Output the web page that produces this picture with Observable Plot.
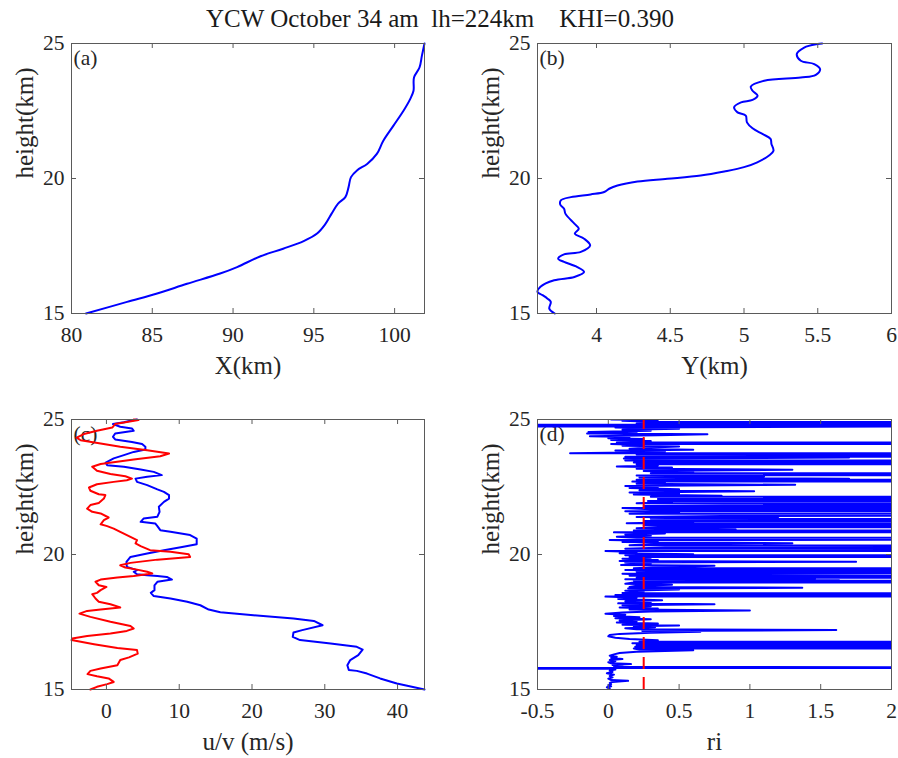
<!DOCTYPE html>
<html>
<head>
<meta charset="utf-8">
<script src="https://cdn.jsdelivr.net/npm/d3@7"></script>
<script src="https://cdn.jsdelivr.net/npm/@observablehq/plot@0.6"></script>
<style>
  body { margin: 0; background: #fff; }
  #fig { position: relative; width: 898px; height: 758px; overflow: hidden;
         font-family: "Liberation Serif", "Times New Roman", serif; color: #1a1a1a; }
  #title { position: absolute; left: 0; top: 6px; width: 880px; text-align: center;
           font-size: 25px; line-height: 1; white-space: pre; }
</style>
</head>
<body>
<div id="fig">
  <div id="title">YCW October 34 am  lh=224km    KHI=0.390</div>
</div>
<script>
// Shared height axis (km)
const heightDomain = [15, 25];
const heightTicks = [15, 20, 25];

// (a) horizontal position X (km) against height
const heightA = [15, 15.43, 15.74, 16.1, 16.48, 16.72, 17.12, 17.4, 17.68, 17.96,
                 18.3, 18.7, 19.07, 19.31, 19.68, 20.05, 20.3, 20.54, 20.91, 21.4,
                 21.96, 22.51, 22.95, 23.25, 23.74, 24.11, 24.55, 25];
const xPos    = [80.9, 83.44, 85.3, 87.15, 89.2, 90.25, 91.7, 93.1, 94.37, 95.2,
                 95.7, 96.1, 96.5, 96.95, 97.15, 97.3, 97.67, 98.3, 98.9, 99.3,
                 99.93, 100.55, 100.97, 101.17, 101.2, 101.54, 101.69, 101.85];
const xTicksA = [80, 85, 90, 95, 100];

// (b) horizontal position Y (km) against height
const heightB = [15, 15.18, 15.43, 15.55, 15.68, 15.8, 15.99, 16.23, 16.35, 16.54,
                 16.72, 16.91, 17.03, 17.19, 17.28, 17.52, 17.77, 17.96, 18.14, 18.33,
                 18.69, 18.88, 19.04, 19.19, 19.31, 19.41, 19.5, 19.62, 19.74, 19.89,
                 19.99, 20.11, 20.26, 20.42, 20.6, 20.85, 21.03, 21.28, 21.47, 21.65,
                 21.86, 22.08, 22.33, 22.45, 22.64, 22.82, 22.91, 23.07, 23.25, 23.4,
                 23.62, 23.74, 23.84, 24.05, 24.24, 24.36, 24.61, 24.85, 24.98, 25];
const yPos    = [3.717, 3.68, 3.69, 3.668, 3.634, 3.6, 3.62, 3.713, 3.85, 3.916,
                 3.87, 3.78, 3.74, 3.78, 3.894, 3.957, 3.916, 3.853, 3.88, 3.85,
                 3.79, 3.78, 3.754, 3.758, 3.826, 3.96, 4.052, 4.086, 4.142, 4.278,
                 4.48, 4.707, 4.866, 5.0, 5.09, 5.17, 5.2, 5.186, 5.18, 5.125,
                 5.058, 5.02, 5.012, 4.956, 4.933, 4.98, 5.058, 5.092, 5.058, 5.046,
                 5.137, 5.385, 5.487, 5.516, 5.476, 5.385, 5.358, 5.408, 5.498, 5.53];
const xTicksB = [4, 4.5, 5, 5.5, 6];
const yPosMax = 6;

// (c) wind components u (blue) and v (red), m/s
const heightU = [15, 15.22, 15.41, 15.59, 15.69, 15.72, 15.9, 16.09, 16.27, 16.48,
                 16.58, 16.7, 16.83, 16.95, 17.11, 17.2, 17.38, 17.54, 17.63, 17.75,
                 17.86, 17.96, 18.12, 18.25, 18.37, 18.46, 18.58, 18.68, 18.86, 18.99,
                 19.07, 19.17, 19.2, 19.23, 19.27, 19.36, 19.42, 19.54, 19.73, 19.91,
                 20.04, 20.16, 20.28, 20.38, 20.59, 20.72, 20.84, 20.9, 21.05, 21.15,
                 21.21, 21.33, 21.4, 21.58, 21.77, 21.95, 22.07, 22.2, 22.32, 22.41,
                 22.57, 22.69, 22.81, 22.88, 22.94, 23.06, 23.15, 23.25, 23.31, 23.4,
                 23.56, 23.68, 23.8, 23.89, 23.99, 24.09, 24.17, 24.26, 24.36, 24.48,
                 24.58, 24.67, 24.73, 24.83, 24.9, 24.95, 25];
const uWind   = [43.7, 39.9, 37.6, 35.8, 34.4, 33.3, 33.1, 33.5, 34.6, 35.2,
                 34.4, 30.8, 26.6, 25.6, 25.7, 26.9, 29.7, 28.5, 25.7, 20.2,
                 15.65, 14.05, 12.9, 11.1, 8.8, 6.5, 6.1, 6.6, 6.6, 7.0,
                 9.0, 8.3, 7.0, 5.6, 4.2, 3.75, 4.2, 2.8, 2.75, 3.3,
                 5.6, 7.9, 10.4, 12.4, 12.4, 11.5, 8.8, 7.4, 7.0, 6.7,
                 4.7, 5.1, 7.0, 7.3, 7.2, 7.9, 8.6, 8.6, 7.9, 7.0,
                 5.6, 4.2, 4.0, 5.6, 7.6, 6.5, 4.7, 2.4, 0.1, -0.1,
                 1.0, 2.4, 3.75, 5.35, 5.35, 4.9, 3.5, 1.2, 0.9, 1.2,
                 3.75, 3.5, 1.9, 0.9, 2.4, 3.3, 4.2];
const heightV = [15, 15.1, 15.2, 15.28, 15.41, 15.49, 15.57, 15.69, 15.78, 15.9,
                 16.09, 16.19, 16.33, 16.46, 16.54, 16.68, 16.83, 16.89, 16.98, 17.07,
                 17.17, 17.26, 17.35, 17.51, 17.69, 17.81, 17.91, 17.96, 18.04, 18.16,
                 18.25, 18.37, 18.53, 18.58, 18.68, 18.8, 18.86, 18.99, 19.07, 19.15,
                 19.2, 19.3, 19.36, 19.44, 19.52, 19.6, 19.69, 19.81, 19.91, 20.01,
                 20.1, 20.16, 20.31, 20.41, 20.53, 20.65, 20.84, 20.96, 21.05, 21.12,
                 21.27, 21.37, 21.52, 21.58, 21.7, 21.83, 21.91, 22.07, 22.2, 22.23,
                 22.36, 22.48, 22.6, 22.69, 22.75, 22.81, 22.9, 22.98, 23.1, 23.25,
                 23.35, 23.52, 23.64, 23.74, 23.86, 23.99, 24.11, 24.23, 24.33, 24.46,
                 24.58, 24.7, 24.83, 24.9, 24.98, 25];
const vWind   = [-2.2, -1.3, 0.1, 1.0, 0.3, -1.3, -2.6, -2.2, -0.8, 1.5,
                 1.9, 3.1, 4.3, 4.2, 1.5, -1.7, -4.8, -4.7, -2.65, 0.55,
                 2.8, 3.75, 3.3, 0.55, -2.2, -3.7, -2.65, -0.8, 1.9, 0.55,
                 -1.05, -1.5, -1.95, -1.3, -0.8, 0, -1.05, -1.5, -0.8, 1.5,
                 3.75, 6.3, 5.6, 4.2, 2.6, 1.9, 3.3, 7.0, 11.5, 11.3,
                 8.8, 6.0, 4.7, 4.0, 4.2, 3.3, 1.9, 1.0, 0.1, -0.8,
                 -0.35, 0.3, -0.8, -1.95, -2.65, -2.2, -1.05, -0.35, -0.15, -1.05,
                 -2.2, -2.4, -1.3, 1.0, 2.8, 3.5, 2.6, 0.55, -1.3, -1.95,
                 -0.8, 3.75, 7.4, 8.6, 5.6, 1.9, -0.8, -3.55, -4.1, -3.1,
                 -1.3, 0.8, 1.2, 2.6, 4.4, 3.75];
const xTicksC = [0, 10, 20, 30, 40];

// (d) Richardson number profile: [height km, ri]
const riProfile = [
  [15.00, 0.00], [15.04, 0.01], [15.08, -0.01], [15.12, 0.02], [15.16, 0.00],
  [15.20, 0.02], [15.24, 0.01], [15.28, 0.03], [15.32, 0.14], [15.35, 0.02],
  [15.40, 0.00], [15.45, 0.03], [15.50, 0.01], [15.55, 0.04], [15.60, -0.01],
  [15.65, 0.03], [15.70, 0.01], [15.74, 0.05], [15.77, 0.02], [15.79, -30],
  [15.80, 30], [15.83, 0.04], [15.87, 0.10], [15.91, 0.03], [15.94, 0.16],
  [15.97, 0.02], [16.01, 0.00], [16.05, 0.05], [16.09, 0.01], [16.13, 0.10],
  [16.17, 0.02], [16.21, 0.06], [16.25, 0.01], [16.30, 0.04], [16.35, 0.08],
  [16.40, 0.20], [16.45, 0.60], [16.48, 0.22], [16.52, 0.18], [16.55, 30],
  [16.58, 0.19], [16.62, 30], [16.65, 0.20], [16.68, 30], [16.71, 0.17],
  [16.74, 30], [16.77, 0.22], [16.82, 0.35], [16.87, 0.15], [16.92, 0.05],
  [16.97, 0.00], [17.02, 0.01], [17.06, 0.08], [17.10, 0.30], [17.14, 0.65],
  [17.17, 0.24], [17.20, 1.61], [17.23, 0.20], [17.27, 0.12], [17.31, 0.33],
  [17.34, 0.18], [17.37, 0.50], [17.40, 0.10], [17.44, 0.35], [17.48, 0.06],
  [17.52, 0.20], [17.56, 0.08], [17.60, 0.30], [17.64, 0.05], [17.68, 0.22],
  [17.72, 0.04], [17.77, 0.12], [17.81, -0.02], [17.85, 0.10], [17.89, 0.30],
  [17.93, 1.00], [17.96, 0.15], [18.00, 0.35], [18.04, 0.08], [18.08, 0.30],
  [18.12, 0.10], [18.16, 0.75], [18.19, 0.07], [18.23, 0.30], [18.27, 0.12],
  [18.31, 0.38], [18.35, 0.07], [18.40, 0.20], [18.44, -0.02], [18.47, 30],
  [18.50, 0.05], [18.54, 30], [18.57, 0.10], [18.62, 0.25], [18.66, 0.12],
  [18.70, 0.50], [18.74, 0.14], [18.77, 1.37], [18.80, 0.15], [18.84, 0.20],
  [18.88, 0.45], [18.92, 0.12], [18.96, 0.18], [19.00, 30], [19.03, 0.18],
  [19.05, 1.63], [19.08, 0.12], [19.11, 1.46], [19.14, 0.20], [19.18, 30],
  [19.21, 0.15], [19.25, 0.30], [19.29, 0.10], [19.33, 30], [19.36, 0.20],
  [19.40, 0.60], [19.43, 0.12], [19.46, 30], [19.49, 0.18], [19.54, 0.40],
  [19.58, 0.75], [19.61, 0.09], [19.66, 0.30], [19.70, 0.12], [19.73, 1.75],
  [19.76, 0.08], [19.80, 0.35], [19.84, 0.10], [19.88, 0.30], [19.91, 0.15],
  [19.94, 30], [19.97, 0.12], [20.01, 0.60], [20.05, 0.08], [20.09, 0.20],
  [20.13, -0.02], [20.17, 30], [20.21, 0.12], [20.26, 0.40], [20.30, 30],
  [20.34, 0.15], [20.38, 0.30], [20.42, 1.30], [20.46, 0.10], [20.50, 0.35],
  [20.54, 0.01], [20.58, 30], [20.62, 0.20], [20.66, 0.06], [20.70, 0.30],
  [20.74, 0.12], [20.78, 0.40], [20.82, 0.04], [20.85, 30], [20.89, 0.18],
  [20.93, 0.90], [20.97, 0.20], [21.01, 0.35], [21.04, 30], [21.08, 0.25],
  [21.12, 30], [21.16, 0.13], [21.20, 0.60], [21.24, 0.25], [21.28, 30],
  [21.32, 0.30], [21.35, 1.20], [21.39, 0.20], [21.43, 0.80], [21.47, 30],
  [21.51, 0.15], [21.56, 0.50], [21.60, 0.12], [21.64, 30], [21.68, 0.30],
  [21.72, 0.10], [21.76, 30], [21.80, 0.25], [21.83, 1.30], [21.86, 30],
  [21.90, 0.20], [21.94, 0.45], [21.98, 0.28], [22.02, 30], [22.06, 0.35],
  [22.10, 30], [22.14, 0.30], [22.18, 0.80], [22.22, 0.18], [22.26, 0.50],
  [22.30, 0.15], [22.34, 1.03], [22.38, 0.22], [22.42, 0.50], [22.46, 0.15],
  [22.50, 0.35], [22.54, 0.12], [22.58, 1.32], [22.62, 0.20], [22.66, 0.40],
  [22.70, 0.17], [22.73, 30], [22.77, 0.20], [22.81, 1.70], [22.85, 0.22],
  [22.89, 1.10], [22.93, 0.20], [22.97, 30], [23.01, 0.30], [23.05, 0.60],
  [23.09, 0.25], [23.14, 1.30], [23.18, 0.20], [23.22, 0.45], [23.26, 0.06],
  [23.30, 0.35], [23.34, 0.20], [23.38, 30], [23.41, 0.18], [23.44, 30],
  [23.48, 0.12], [23.52, 0.40], [23.56, 0.11], [23.59, 1.70], [23.62, 0.12],
  [23.66, 30], [23.70, 0.20], [23.73, 30], [23.75, -0.27], [23.78, 0.15],
  [23.82, 0.40], [23.85, 0.05], [23.88, 0.60], [23.92, 0.15], [23.96, 0.30],
  [24.00, 0.50], [24.03, 0.10], [24.06, 0.25], [24.09, 0.02], [24.12, 30],
  [24.15, 0.06], [24.20, 0.30], [24.24, 0.02], [24.28, 0.25], [24.31, 0.00],
  [24.35, 0.15], [24.38, -0.13], [24.42, 0.35], [24.45, 0.70], [24.48, -0.15],
  [24.51, 0.20], [24.54, -0.14], [24.58, 0.30], [24.62, 0.10], [24.66, 0.50],
  [24.70, 0.05], [24.74, 2.00], [24.76, -30], [24.78, 30], [24.80, -30],
  [24.82, 30], [24.85, 0.20], [24.88, 30], [24.91, 0.36], [24.95, 0.10],
  [24.98, 0.35], [25.00, 0.02]
];
const riCritical = [0.25];
const riDomain = [-0.5, 2];
const xTicksD = [-0.5, 0, 0.5, 1, 1.5, 2];

const FONT = '"Liberation Serif", "Times New Roman", serif';
const INK = "#262626";
const FRAME = "#5a5a5a";
const BLUE = "#0000ff";
const RED = "#ff0000";
const TICK_FS = 21.5;
const LABEL_FS = 25;
const TICK_LEN = 5;

const zip = (hs, vs) => hs.map((h, i) => ({h, v: vs[i]}));

function panel({col, row, xDomain, xTicks, xLabel, letter, marks}) {
  const width = 449, height = 379;
  const marginLeft = col === 0 ? 71 : 88;
  const marginRight = col === 0 ? 25 : 7;
  const marginTop = row === 0 ? 43 : 40;
  const marginBottom = row === 0 ? 66 : 69;
  const innerW = width - marginLeft - marginRight;
  const innerH = height - marginTop - marginBottom;
  const fmt = d => String(d);
  const svg = Plot.plot({
    width, height, marginLeft, marginRight, marginTop, marginBottom,
    style: {fontFamily: FONT, color: INK, background: "transparent", overflow: "visible"},
    x: {domain: xDomain},
    y: {domain: heightDomain},
    marks: [
      Plot.text([letter], {text: d => d, frameAnchor: "top-left", dx: 2, dy: 6.5,
        textAnchor: "start", lineAnchor: "top", fontSize: TICK_FS, fill: INK}),
      ...marks,
      // inward tick marks on all four sides
      Plot.ruleX(xTicks, {x: d => d, insetTop: innerH - TICK_LEN, stroke: FRAME}),
      Plot.ruleX(xTicks, {x: d => d, insetBottom: innerH - TICK_LEN, stroke: FRAME}),
      Plot.ruleY(heightTicks, {y: d => d, insetRight: innerW - TICK_LEN, stroke: FRAME}),
      Plot.ruleY(heightTicks, {y: d => d, insetLeft: innerW - TICK_LEN, stroke: FRAME}),
      Plot.frame({stroke: FRAME}),
      Plot.axisX(xTicks, {tickSize: 0, tickPadding: 13, fontSize: TICK_FS, tickFormat: fmt, label: null, fill: INK}),
      Plot.axisY(heightTicks, {tickSize: 0, tickPadding: 7, fontSize: TICK_FS, tickFormat: fmt, label: null, fill: INK}),
      Plot.text([xLabel], {text: d => d, frameAnchor: "bottom", dy: 52, lineAnchor: "middle",
        fontSize: LABEL_FS, fill: INK}),
      Plot.text(["height(km)"], {text: d => d, frameAnchor: "left", dx: -47, rotate: -90,
        fontSize: LABEL_FS, fill: INK})
    ]
  });
  svg.style.position = "absolute";
  svg.style.left = (col * 449) + "px";
  svg.style.top = (row * 379) + "px";
  document.getElementById("fig").appendChild(svg);
}

// (a)
panel({
  col: 0, row: 0, letter: "(a)", xLabel: "X(km)", xTicks: xTicksA,
  xDomain: [xTicksA[0], d3.max(xPos)],
  marks: [
    Plot.line(zip(heightA, xPos), {x: "v", y: "h", stroke: BLUE, strokeWidth: 2, curve: "catmull-rom"})
  ]
});

// (b)
panel({
  col: 1, row: 0, letter: "(b)", xLabel: "Y(km)", xTicks: xTicksB,
  xDomain: [d3.min(yPos), yPosMax],
  marks: [
    Plot.line(zip(heightB, yPos), {x: "v", y: "h", stroke: BLUE, strokeWidth: 2, curve: "catmull-rom"})
  ]
});

// (c)
panel({
  col: 0, row: 1, letter: "(c)", xLabel: "u/v (m/s)", xTicks: xTicksC,
  xDomain: d3.extent([...uWind, ...vWind]),
  marks: [
    Plot.line(zip(heightU, uWind), {x: "v", y: "h", stroke: BLUE, strokeWidth: 2}),
    Plot.line(zip(heightV, vWind), {x: "v", y: "h", stroke: RED, strokeWidth: 2})
  ]
});

// (d)
panel({
  col: 1, row: 1, letter: "(d)", xLabel: "ri", xTicks: xTicksD,
  xDomain: riDomain,
  marks: [
    Plot.line(riProfile, {x: d => d[1], y: d => d[0], stroke: BLUE, strokeWidth: 2, clip: true}),
    Plot.ruleX(riCritical, {x: d => d, stroke: RED, strokeWidth: 2, strokeDasharray: "12,8", strokeDashoffset: 2})
  ]
});
</script>
</body>
</html>
